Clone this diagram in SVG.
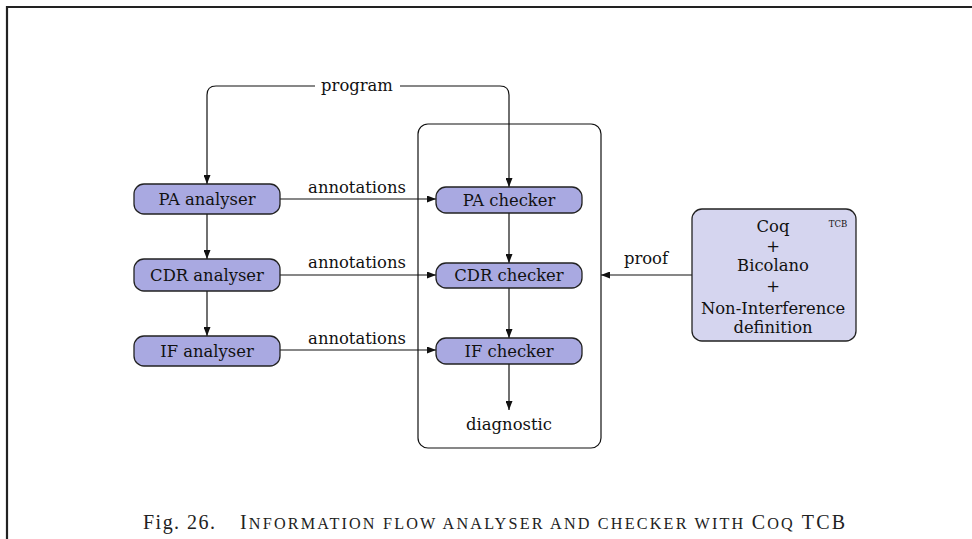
<svg xmlns="http://www.w3.org/2000/svg" width="972" height="539" viewBox="0 0 972 539">
<style>
.node rect{fill:#a9a9e1;stroke:#222;stroke-width:1.3}
.t{font-family:"DejaVu Serif","Liberation Serif",serif;font-size:16.4px;fill:#111;text-anchor:middle}
.lbl{font-family:"DejaVu Serif","Liberation Serif",serif;font-size:16.4px;fill:#111;text-anchor:middle}
.conn path,.conn line{fill:none;stroke:#111;stroke-width:1.2}
.sc{font-size:16.2px}
</style>
<defs>
<marker id="ah" markerWidth="9" markerHeight="7" refX="9" refY="3.5" orient="auto" markerUnits="userSpaceOnUse">
<path d="M0,0 L9,3.5 L0,7 z" fill="#111"/>
</marker>
</defs>
<rect width="972" height="539" fill="#fff"/>
<path d="M7,539 V7 H972" fill="none" stroke="#222" stroke-width="2.2"/>

<g id="container">
<rect x="418" y="124" width="183" height="324" rx="10" fill="none" stroke="#111" stroke-width="1.2"/>
</g>

<g class="conn" id="connectors">
<path d="M315,86 H216 Q207,86 207,95 V184" marker-end="url(#ah)"/>
<path d="M400,86 H500 Q509,86 509,95 V187" marker-end="url(#ah)"/>
<line x1="207" y1="214" x2="207" y2="259" marker-end="url(#ah)"/>
<line x1="207" y1="291" x2="207" y2="336" marker-end="url(#ah)"/>
<line x1="509" y1="213" x2="509" y2="263" marker-end="url(#ah)"/>
<line x1="509" y1="288" x2="509" y2="338" marker-end="url(#ah)"/>
<line x1="509" y1="364" x2="509" y2="410" marker-end="url(#ah)"/>
<line x1="280" y1="199" x2="436" y2="199" marker-end="url(#ah)"/>
<line x1="280" y1="275" x2="436" y2="275" marker-end="url(#ah)"/>
<line x1="280" y1="350" x2="436" y2="350" marker-end="url(#ah)"/>
<line x1="692" y1="275" x2="601" y2="275" marker-end="url(#ah)"/>
<text class="lbl" x="357" y="91">program</text>
<text class="lbl" x="357" y="193">annotations</text>
<text class="lbl" x="357" y="268">annotations</text>
<text class="lbl" x="357" y="344">annotations</text>
<text class="lbl" x="646" y="264">proof</text>
</g>

<g class="node" id="pa-analyser"><rect x="134" y="184" width="146" height="30" rx="10"/><text class="t" x="207" y="205">PA analyser</text></g>
<g class="node" id="cdr-analyser"><rect x="134" y="259" width="146" height="32" rx="10"/><text class="t" x="207" y="281">CDR analyser</text></g>
<g class="node" id="if-analyser"><rect x="134" y="336" width="146" height="30" rx="10"/><text class="t" x="207" y="357">IF analyser</text></g>
<g class="node" id="pa-checker"><rect x="436" y="187" width="146" height="26" rx="10"/><text class="t" x="509" y="206">PA checker</text></g>
<g class="node" id="cdr-checker"><rect x="436" y="263" width="146" height="25" rx="10"/><text class="t" x="509" y="281">CDR checker</text></g>
<g class="node" id="if-checker"><rect x="436" y="338" width="146" height="26" rx="10"/><text class="t" x="509" y="357">IF checker</text></g>
<g id="diagnostic"><text class="t" x="509" y="430">diagnostic</text></g>

<g id="tcb">
<rect x="692" y="209" width="164" height="132" rx="10" fill="#d5d5ef" stroke="#222" stroke-width="1.3"/>
<text class="t" x="773" y="232">Coq</text>
<text class="t" x="773" y="252">+</text>
<text class="t" x="773" y="271">Bicolano</text>
<text class="t" x="773" y="292">+</text>
<text class="t" x="773" y="314">Non-Interference</text>
<text class="t" x="773" y="333">definition</text>
<text x="838" y="227" font-family="DejaVu Serif, Liberation Serif, serif" font-size="8.5" text-anchor="middle" fill="#111">TCB</text>
</g>

<g id="caption" font-family="Liberation Serif, serif" fill="#222" font-size="20">
<text x="143" y="529" textLength="72" lengthAdjust="spacing">Fig. 26.</text>
<text x="240" y="529" textLength="605" lengthAdjust="spacing">I<tspan class="sc">NFORMATION FLOW ANALYSER AND CHECKER WITH </tspan>C<tspan class="sc">OQ</tspan> TCB</text>
</g>
</svg>
